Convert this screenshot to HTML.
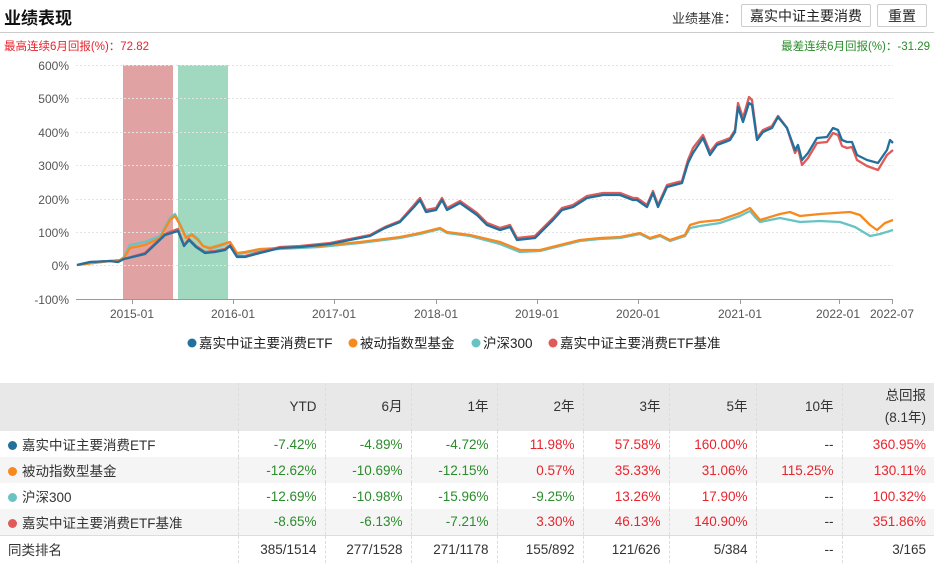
<!DOCTYPE html>
<html><head><meta charset="utf-8"><style>
*{margin:0;padding:0;box-sizing:border-box}
body{width:934px;height:566px;background:#fff;font-family:"Liberation Sans","Noto Sans CJK SC",sans-serif;position:relative;overflow:hidden;color:#333}
.abs{position:absolute;white-space:nowrap}
.btn{position:absolute;border:1px solid #ccc;background:#fff;font-size:14px;text-align:center;line-height:22px;color:#222;border-radius:2px}
table{position:absolute;left:0;top:383px;width:934px;border-collapse:collapse;font-size:13.5px}
td{height:26px;text-align:right;padding-right:8px;border-left:1px dashed #ddd}
td:first-child{text-align:left;padding-left:8px;border-left:none}
tr.h td{background:#e8e8e8;height:48px;line-height:22px}
tr.g td{background:#f5f5f5}
tr.last td{border-top:1px solid #ddd;height:28px}
.r{color:#e8242d}.gn{color:#2a8c2a}
.d{display:inline-block;width:9px;height:9px;border-radius:50%;margin-right:5px}
</style></head><body>
<div class="abs" style="left:4px;top:4px;font-size:17px;font-weight:bold;color:#111">业绩表现</div>
<div class="abs" style="left:672px;top:8px;font-size:13px;color:#333">业绩基准：</div>
<div class="btn" style="left:741px;top:4px;width:130px;height:23px">嘉实中证主要消费</div>
<div class="btn" style="left:877px;top:4px;width:50px;height:23px">重置</div>
<div class="abs" style="left:0;top:32px;width:934px;height:1px;background:#ccc"></div>
<div class="abs" style="left:4px;top:38px;font-size:11.5px;color:#e8242d">最高连续6月回报(%)：72.82</div>
<div class="abs" style="right:4px;top:38px;font-size:11.5px;color:#2a8c2a">最差连续6月回报(%)：-31.29</div>
<svg class="abs" style="left:0;top:0" width="934" height="380">
<rect x="123" y="65" width="50" height="234" fill="#e0a2a2"/>
<rect x="178" y="65" width="50" height="234" fill="#a1d8c0"/>
<g stroke="#e4e4e4" stroke-dasharray="2,2">
<line x1="76" x2="893" y1="65.5" y2="65.5"/><line x1="76" x2="893" y1="98.5" y2="98.5"/><line x1="76" x2="893" y1="132.5" y2="132.5"/><line x1="76" x2="893" y1="165.5" y2="165.5"/><line x1="76" x2="893" y1="199.5" y2="199.5"/><line x1="76" x2="893" y1="232.5" y2="232.5"/><line x1="76" x2="893" y1="265.5" y2="265.5"/></g>
<line x1="76" x2="893" y1="299.5" y2="299.5" stroke="#999"/>
<g stroke="#999"><line x1="132.5" x2="132.5" y1="299" y2="304"/><line x1="233.5" x2="233.5" y1="299" y2="304"/><line x1="334.5" x2="334.5" y1="299" y2="304"/><line x1="436.5" x2="436.5" y1="299" y2="304"/><line x1="537.5" x2="537.5" y1="299" y2="304"/><line x1="638.5" x2="638.5" y1="299" y2="304"/><line x1="740.5" x2="740.5" y1="299" y2="304"/><line x1="839.5" x2="839.5" y1="299" y2="304"/><line x1="892.5" x2="892.5" y1="299" y2="304"/></g>
<g font-size="12" fill="#555" text-anchor="end" font-family="Liberation Sans">
<text x="69" y="70">600%</text><text x="69" y="103">500%</text><text x="69" y="137">400%</text><text x="69" y="170">300%</text><text x="69" y="204">200%</text><text x="69" y="237">100%</text><text x="69" y="270">0%</text><text x="69" y="304">-100%</text></g>
<g font-size="12" fill="#555" text-anchor="middle" font-family="Liberation Sans">
<text x="132" y="318">2015-01</text><text x="233" y="318">2016-01</text><text x="334" y="318">2017-01</text><text x="436" y="318">2018-01</text><text x="537" y="318">2019-01</text><text x="638" y="318">2020-01</text><text x="740" y="318">2021-01</text><text x="838" y="318">2022-01</text><text x="892" y="318">2022-07</text></g>
<g fill="none" stroke-width="2.3" stroke-linejoin="round">
<polyline stroke="#68c3c3" points="77,265 110,261 120,260 124,257 130,245 145,242 160,236 170,218 175,214 180,224 186,237 192,234 198,239 203,246 210,249 220,246 230,242 237,254 245,253 260,250 280,249 320,247 360,243 400,238 420,234 440,229 447,233 470,236 500,244 520,252 540,251 560,246 580,241 600,239 620,238 640,234 650,239 660,236 670,241 685,236 690,228 700,226 720,223 740,216 750,211 755,217 760,222 780,218 800,222 820,221 840,222 855,227 870,236 880,234 893,230"/>
<polyline stroke="#f7891e" points="77,265 110,261 120,260 124,258 130,248 145,245 160,238 170,220 175,216 180,225 186,238 192,235 198,240 203,246 210,248 220,245 230,242 237,253 245,252 260,249 280,248 320,246 360,242 400,237 420,233 440,228 447,232 470,235 500,242 520,250 540,250 560,245 580,240 600,238 620,237 640,233 650,238 660,235 670,240 685,235 690,225 700,222 720,220 740,213 750,208 755,214 760,220 780,214 790,212 800,216 820,214 850,212 860,215 870,225 877,230 885,223 893,220"/>
<polyline stroke="#e05a5a" points="77,265 90,262 110,261 118,262 124,259 145,253 165,234 178,229 184,245 189,239 196,246 205,252 215,251 225,249 230,245 237,256 245,256 260,252 280,247 300,246 330,243 350,239 370,235 385,227 400,221 414,205 420,198 426,210 436,208 442,198 447,208 460,201 477,213 487,223 500,228 510,225 517,238 535,236 553,218 562,208 573,205 587,196 603,193 620,193 633,198 637,198 647,205 653,191 658,205 667,185 682,181 688,160 693,148 703,135 710,152 717,143 725,140 730,138 735,130 738,103 743,118 749,97 752,100 757,138 763,130 772,126 778,116 787,128 795,153 798,148 802,165 808,158 817,143 827,142 833,133 838,135 842,146 847,148 852,147 857,160 867,166 878,170 887,155 893,150"/>
<polyline stroke="#22709c" points="77,265 90,262 110,261 118,262 124,259 145,254 165,235 178,231 184,246 189,240 196,247 205,253 215,252 225,250 230,246 237,257 245,257 260,253 280,248 300,247 330,244 350,240 370,236 385,228 400,222 414,207 420,200 426,212 436,210 442,200 447,210 460,203 477,215 487,225 500,230 510,227 517,240 535,238 553,220 562,210 573,207 587,198 603,195 620,195 633,200 637,200 647,207 653,193 658,207 667,187 682,183 688,163 693,153 703,138 710,155 717,145 725,142 730,140 735,132 738,107 743,122 749,103 752,105 757,140 763,132 772,128 778,117 787,128 795,150 798,145 802,160 808,153 817,138 827,137 833,128 838,130 842,140 847,142 852,142 857,155 867,160 878,163 887,150 890,140 893,143"/>
</g>
<g font-size="13.5" fill="#222" font-family="Liberation Sans,Noto Sans CJK SC,sans-serif">
<circle cx="192" cy="343" r="4.5" fill="#22709c"/><text x="199" y="348">嘉实中证主要消费ETF</text>
<circle cx="353" cy="343" r="4.5" fill="#f7891e"/><text x="360" y="348">被动指数型基金</text>
<circle cx="476" cy="343" r="4.5" fill="#68c3c3"/><text x="483" y="348">沪深300</text>
<circle cx="553" cy="343" r="4.5" fill="#e05a5a"/><text x="560" y="348">嘉实中证主要消费ETF基准</text>
</g>
</svg>
<table>
<colgroup><col style="width:238px"><col style="width:87px"><col style="width:86px"><col style="width:86px"><col style="width:86px"><col style="width:86px"><col style="width:87px"><col style="width:86px"><col style="width:92px"></colgroup>
<tr class="h"><td></td><td>YTD</td><td>6月</td><td>1年</td><td>2年</td><td>3年</td><td>5年</td><td>10年</td><td>总回报<br>(8.1年)</td></tr>
<tr><td><span class="d" style="background:#22709c"></span>嘉实中证主要消费ETF</td><td class="gn">-7.42%</td><td class="gn">-4.89%</td><td class="gn">-4.72%</td><td class="r">11.98%</td><td class="r">57.58%</td><td class="r">160.00%</td><td>--</td><td class="r">360.95%</td></tr>
<tr class="g"><td><span class="d" style="background:#f7891e"></span>被动指数型基金</td><td class="gn">-12.62%</td><td class="gn">-10.69%</td><td class="gn">-12.15%</td><td class="r">0.57%</td><td class="r">35.33%</td><td class="r">31.06%</td><td class="r">115.25%</td><td class="r">130.11%</td></tr>
<tr><td><span class="d" style="background:#68c3c3"></span>沪深300</td><td class="gn">-12.69%</td><td class="gn">-10.98%</td><td class="gn">-15.96%</td><td class="gn">-9.25%</td><td class="r">13.26%</td><td class="r">17.90%</td><td>--</td><td class="r">100.32%</td></tr>
<tr class="g"><td><span class="d" style="background:#e05a5a"></span>嘉实中证主要消费ETF基准</td><td class="gn">-8.65%</td><td class="gn">-6.13%</td><td class="gn">-7.21%</td><td class="r">3.30%</td><td class="r">46.13%</td><td class="r">140.90%</td><td>--</td><td class="r">351.86%</td></tr>
<tr class="last"><td>同类排名</td><td>385/1514</td><td>277/1528</td><td>271/1178</td><td>155/892</td><td>121/626</td><td>5/384</td><td>--</td><td>3/165</td></tr>
</table>
</body></html>
